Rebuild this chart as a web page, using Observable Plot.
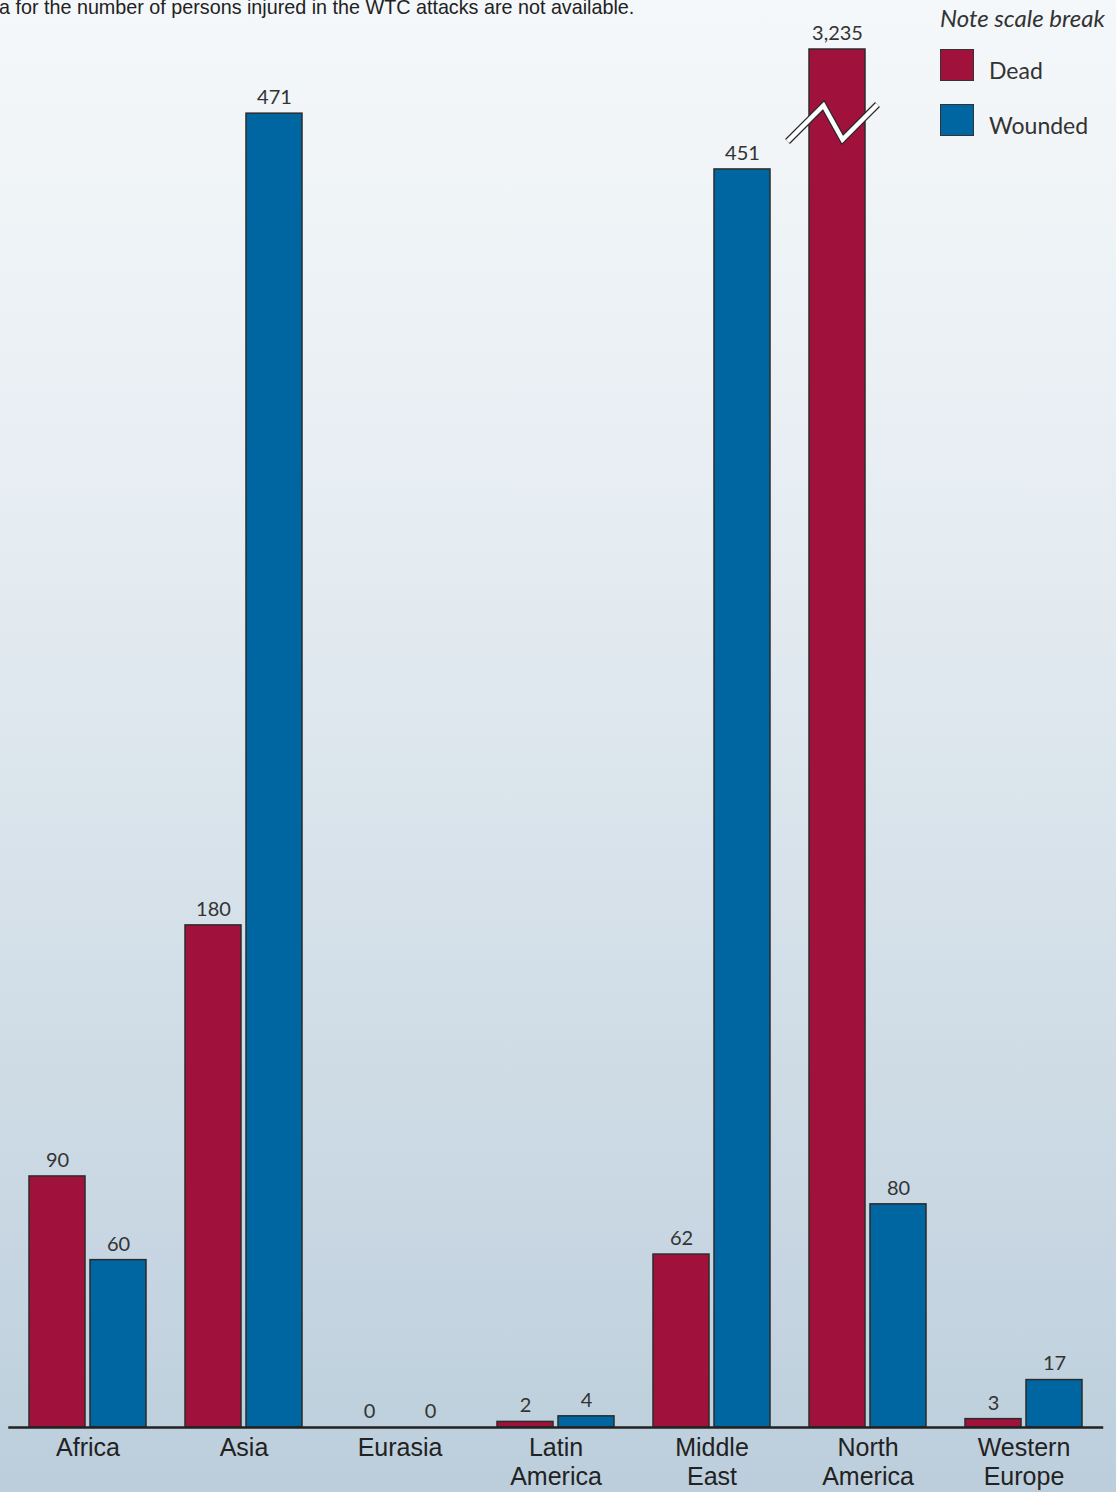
<!DOCTYPE html>
<html><head><meta charset="utf-8">
<script src="https://cdn.jsdelivr.net/npm/d3@7"></script>
<script src="https://cdn.jsdelivr.net/npm/@observablehq/plot@0.6"></script>
<style>
html,body{margin:0;padding:0;}
#chart{position:relative;width:1116px;height:1492px;overflow:hidden;
  background:linear-gradient(to bottom,#f5f8fa 0%,#e6edf2 35%,#d3dfe8 65%,#bccedc 100%);}
#note{position:absolute;left:-1px;top:-5px;font-family:"Liberation Sans Narrow","Liberation Sans",sans-serif;font-size:21px;color:#222;white-space:nowrap;transform:scaleX(0.94);transform-origin:0 0;}
#legend{position:absolute;left:940px;top:0;font-family:Lato,"Noto Sans",sans-serif;color:#333;}
#legend .title{position:absolute;left:0;top:3px;font-style:italic;font-size:24px;white-space:nowrap;}
#legend .item{position:absolute;left:0;height:32px;white-space:nowrap;}
#legend .sw{position:absolute;left:0;top:0;width:32px;height:30px;border:1px solid #333;}
#legend .lab{position:absolute;left:49px;top:7px;font-size:23px;line-height:28px;}
#chart svg{position:absolute;left:0;top:0;}
</style>
</head><body>
<div id="chart">
  <div id="note"></div>
  <div id="legend"></div>
</div>
<script>
const noteText = "a for the number of persons injured in the WTC attacks are not available.";
const regions = ["Africa","Asia","Eurasia","Latin America","Middle East","North America","Western Europe"];
const regionLabels = ["Africa","Asia","Eurasia","Latin\nAmerica","Middle\nEast","North\nAmerica","Western\nEurope"];
const dead = [90,180,0,2,62,3235,3];
const wounded = [60,471,0,4,451,80,17];
const types = ["Dead","Wounded"];
const typeColors = ["#a0123c","#0066a1"];
const legendTitle = "Note scale break";
const scaleTop = 494;    // value at the top of the drawn scale (bars above are broken)
const breakValue = 468;  // where the break symbol sits
const brokenRegion = "North America";

const rows = regions.flatMap((r,i)=>[
  {region:r, type:"Dead", value:dead[i]},
  {region:r, type:"Wounded", value:wounded[i]}
]);

document.getElementById("note").textContent = noteText;
const lg = document.getElementById("legend");
lg.innerHTML = `<div class="title">${legendTitle}</div>` + types.map((t,i)=>
  `<div class="item" style="top:${49+i*55}px"><div class="sw" style="background:${typeColors[i]}"></div><div class="lab">${t}</div></div>`).join("");

const fmt = d3.format(",");
const plot = Plot.plot({
  width:1116, height:1492,
  marginLeft:0, marginRight:5.5, marginTop:49, marginBottom:65,
  style:{background:"transparent", overflow:"visible"},
  fx:{domain:regions, paddingInner:0.2384, paddingOuter:0.1728, axis:null, label:null},
  x:{domain:types, paddingInner:0.08, paddingOuter:0, axis:null},
  y:{domain:[0,scaleTop], clamp:true, axis:null},
  color:{domain:types, range:typeColors},
  marks:[
    Plot.barY(rows,{fx:"region", x:"type", y:"value", fill:"type", stroke:"#2b2b2b", strokeWidth:1.5}),
    Plot.text(rows,{fx:"region", x:"type", y:"value", text:d=>fmt(d.value), dy:-16, fontSize:20, fill:"#333", fontFamily:"Lato, 'Noto Sans', sans-serif"}),
    Plot.text(regions,{fx:d=>d, text:(d,i)=>regionLabels[i], frameAnchor:"bottom", lineAnchor:"top", dy:8, fontSize:25, lineHeight:1.16, fill:"#222", fontFamily:"'Liberation Sans', Arial, sans-serif"}),
    Plot.frame({anchor:"bottom", facet:"super", stroke:"#222", strokeWidth:2.5, insetLeft:-19, insetRight:-18.5})
  ]
});
document.getElementById("chart").appendChild(plot);

// scale-break symbol positioned with the plot's own scales
const fxS = plot.scale("fx"), xS = plot.scale("x"), yS = plot.scale("y");
const cx = fxS.apply(brokenRegion) + xS.apply("Dead") + xS.bandwidth/2;
const cy = yS.apply(breakValue);
const zig = [[-49.5,20],[-13.5,-16],[5.5,18],[40.5,-17]];
const pathD = d3.line()(zig.map(([dx,dy])=>[cx+dx, cy+dy]));
const g = d3.select(plot).append("g");
g.append("path").attr("d",pathD).attr("fill","none").attr("stroke","#2b2b2b").attr("stroke-width",7).attr("stroke-linejoin","miter");
g.append("path").attr("d",pathD).attr("fill","none").attr("stroke","#ffffff").attr("stroke-width",4.5).attr("stroke-linejoin","miter");
</script>
</body></html>
